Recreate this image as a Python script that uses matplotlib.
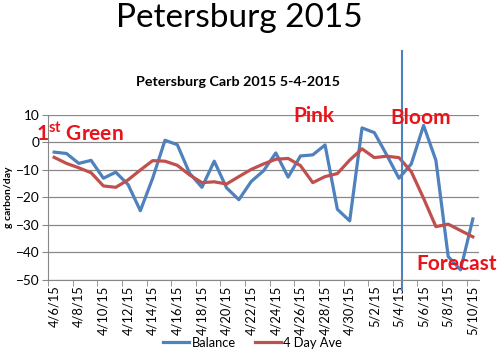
import matplotlib
matplotlib.use('Agg')
import matplotlib.pyplot as plt
from matplotlib.ticker import FixedLocator

plt.rcParams['font.family'] = ['Lato', 'DejaVu Sans']

# daily dates 4/6/15 .. 5/10/15
dates = ['4/%d/15' % d for d in range(6, 31)] + ['5/%d/15' % d for d in range(1, 11)]

balance = [-3.5, -4.0, -7.6, -6.5, -13.0, -10.8, -15.3, -24.8, -13.0, 0.8,
           -0.8, -11.2, -16.3, -6.8, -16.5, -20.8, -14.2, -10.3, -3.8, -12.6,
           -4.9, -4.5, -0.9, -24.3, -28.5, 5.3, 3.6, -4.5, -13.0, -7.8,
           6.2, -6.5, -41.5, -46.3, -27.8]
avg4 = [-5.4, -7.6, -9.2, -11.0, -15.8, -16.3, -13.6, -10.0, -6.6, -6.8,
        -8.3, -11.8, -14.6, -14.3, -15.1, -12.4, -9.8, -7.8, -6.1, -5.8,
        -8.4, -14.6, -12.4, -11.3, -6.4, -2.3, -5.5, -5.0, -5.5, -10.6,
        -20.3, -30.6, -29.7, -32.0, -34.3]

blue = '#4F81BD'
red = '#C0504D'
txt_red = '#E8141B'

fig = plt.figure(figsize=(5.0, 3.56), dpi=100)
ax = fig.add_axes([0.096, 0.2135, 0.862, 0.4635])

x = list(range(len(dates)))
ax.plot(x, balance, color=blue, lw=2.3, label='Balance')
ax.plot(x, avg4, color=red, lw=2.3, label='4 Day Ave')

ax.set_xlim(-0.5, len(dates) - 0.5)
ax.set_ylim(-50, 10)
ax.set_yticks(range(-50, 11, 10))
ax.grid(axis='y', color='#888888', lw=0.9)
ax.set_axisbelow(True)

ax.set_xticks(x[::2])
ax.set_xticklabels(dates[::2], rotation=90, fontsize=9.3)
ax.xaxis.set_minor_locator(FixedLocator([i - 0.5 for i in range(0, len(dates) + 1, 2)]))
ax.tick_params(axis='x', which='major', length=0, pad=4)
ax.tick_params(axis='x', which='minor', length=4, color='#888888')
ax.tick_params(axis='y', length=4, color='#888888', labelsize=9.8, pad=2)

for s in ['top', 'right']:
    ax.spines[s].set_visible(False)
for s in ['left', 'bottom']:
    ax.spines[s].set_color('#888888')

ax.set_ylabel('g carbon/day', fontsize=7.5, fontweight='bold', labelpad=2)

# bloom marker line
ax.axvline(28.26, ymin=-0.06, ymax=1.39, color=blue, lw=1.5, clip_on=False)

ax.text(-1.5, 3.2, '1$^{\\mathregular{st}}$ Green', color=txt_red, fontsize=15,
        fontweight='bold', va='center', ha='left')
ax.text(19.4, 9.8, 'Pink', color=txt_red, fontsize=15, fontweight='bold', va='center')
ax.text(27.3, 9.0, 'Bloom', color=txt_red, fontsize=15, fontweight='bold', va='center')
ax.text(29.4, -44.2, 'Forecast', color=txt_red, fontsize=15, fontweight='bold',
        va='center', clip_on=False)

fig.text(0.478, 0.95, 'Petersburg 2015', fontsize=24, ha='center', va='center')
fig.text(0.477, 0.77, 'Petersburg Carb 2015 5-4-2015', fontsize=10.3,
         fontweight='bold', ha='center', va='center')

ax.legend(loc='center', bbox_to_anchor=(0.475, -0.38), ncol=2, frameon=False,
          fontsize=9.3, handlelength=2.0, columnspacing=1.5, handletextpad=0.2)

fig.savefig('out.png', dpi=100)
